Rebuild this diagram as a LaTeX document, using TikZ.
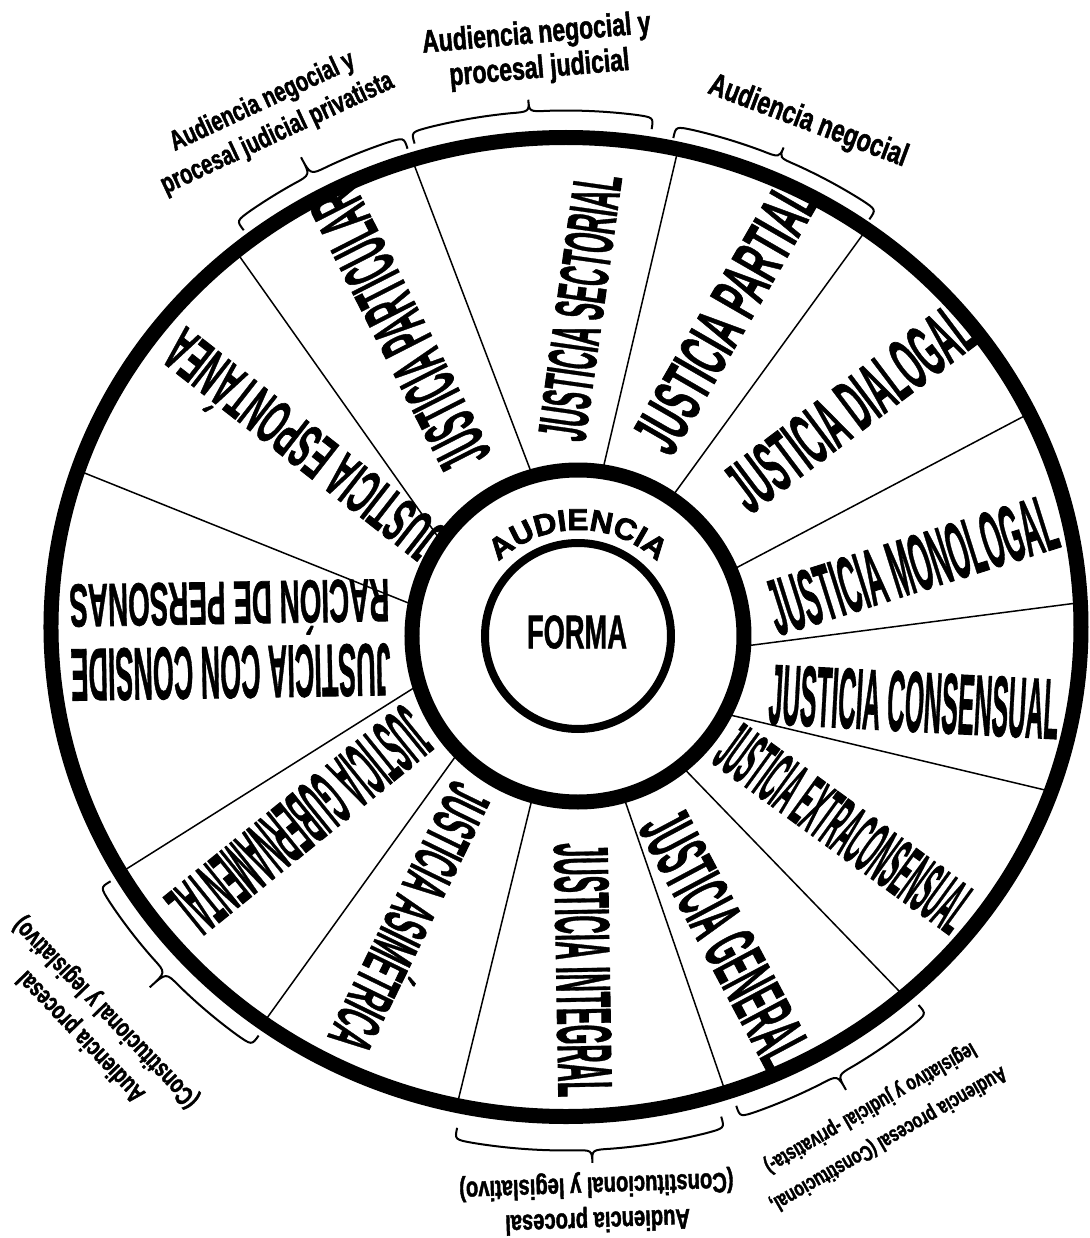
\documentclass[tikz,border=0pt]{standalone}
\usepackage{fontspec}
\usepackage{graphicx}
\usepackage{tikz}
\usetikzlibrary{calc,decorations.text}
\setmainfont{Liberation Sans}
\newfontfamily\segfont[FakeBold=1.2]{Liberation Sans Bold}
\newfontfamily\narrowsans[FakeStretch=0.72, FakeBold=1.5]{Liberation Sans Bold}
\newfontfamily\widesans[FakeStretch=1.05, FakeBold=2.5]{Liberation Sans Bold}

\tikzset{
  spoke/.style={line width=0.75pt},
  bracket/.style={line width=1pt},
  seglabel/.style={inner sep=0pt, font=\segfont},
  rimlabel/.style={inner sep=0pt, align=center},
}

% brace round the rim: start angle, end angle, tip angle, offset, tip height
\newcommand{\rimbrace}[5]{%
  \pgfmathsetmacro{\rxa}{515+#4}\pgfmathsetmacro{\rya}{489.5+#4}%
  \pgfmathsetmacro{\rxe}{\rxa-12}\pgfmathsetmacro{\rye}{\rya-12}%
  \pgfmathsetmacro{\rxt}{\rxa+#5}\pgfmathsetmacro{\ryt}{\rya+#5}%
  \pgfmathsetmacro{\aone}{#1-2}\pgfmathsetmacro{\atwo}{#3+2}%
  \pgfmathsetmacro{\athree}{#3-2}\pgfmathsetmacro{\afour}{#2+2}%
  \draw[bracket] ({\rxe*cos(#1)},{\rye*sin(#1)})
    .. controls ({\rxa*cos(#1)},{\rya*sin(#1)}) .. ({\rxa*cos(\aone)},{\rya*sin(\aone)})
    arc[start angle=\aone, end angle=\atwo, x radius=\rxa, y radius=\rya]
    .. controls ({\rxa*cos(#3)},{\rya*sin(#3)}) .. ({\rxt*cos(#3)},{\ryt*sin(#3)})
    .. controls ({\rxa*cos(#3)},{\rya*sin(#3)}) .. ({\rxa*cos(\athree)},{\rya*sin(\athree)})
    arc[start angle=\athree, end angle=\afour, x radius=\rxa, y radius=\rya]
    .. controls ({\rxa*cos(#2)},{\rya*sin(#2)}) .. ({\rxe*cos(#2)},{\rye*sin(#2)});
}

\begin{document}
\begin{tikzpicture}[x=0.5pt, y=0.5pt]
    \fill[white] (-578,-602) rectangle (511,636);
    \useasboundingbox (-578,-602) rectangle (511,636);

    % spokes
    \begin{scope}
        \clip (-12,9) ellipse [x radius=515, y radius=489.5];
        \draw[spoke] (105.8:165) -- ($(105.8:165)!1.5!(-163,469)$);
        \draw[spoke] (81.6:165) -- ($(81.6:165)!1.5!(99,482)$);
        \draw[spoke] (56.0:165) -- ($(56.0:165)!1.5!(283,399)$);
        \draw[spoke] (23.1:165) -- ($(23.1:165)!1.5!(471,233)$);
        \draw[spoke] (-3.6:165) -- ($(-3.6:165)!1.5!(499,33)$);
        \draw[spoke] (-28.0:165) -- ($(-28.0:165)!1.5!(467,-154)$);
        \draw[spoke] (-51.5:165) -- ($(-51.5:165)!1.5!(321,-355)$);
        \draw[spoke] (-74.2:165) -- ($(-74.2:165)!1.5!(144,-446)$);
        \draw[spoke] (-105.8:165) -- ($(-105.8:165)!1.5!(-120,-465)$);
        \draw[spoke] (-135.9:165) -- ($(-135.9:165)!1.5!(-311,-382)$);
        \draw[spoke] (-163.1:165) -- ($(-163.1:165)!1.5!(-450,-232)$);
        \draw[spoke] (169.5:165) -- ($(169.5:165)!1.5!(-491,162)$);
        \draw[spoke] (145.5:165) -- ($(145.5:165)!1.5!(-338,379)$);
    \end{scope}

    % rim, ring and hub
    \draw[line width=7.5pt] (-12,9) ellipse [x radius=515, y radius=489.5];
    \draw[line width=7.5pt] (0,0) circle [radius=166];
    \draw[line width=4pt] (0,0) circle [radius=93];

    \node (forma) at (-1,4) {\resizebox{50pt}{16.5pt}{\segfont FORMA}};
    \path[decorate, decoration={text along path, text align=center,
        text={|\widesans\fontsize{15}{15}\selectfont|AUDIENCIA}}]
        (140:115) ++(0,-9) arc [start angle=140, end angle=40, radius=115];

    % segments
    \node[seglabel, rotate=117] (particular) at (-178,306) {\resizebox{152pt}{26pt}{JUSTICIA PARTICULAR}};
    \node[seglabel, rotate=82] (sectorial) at (2,329) {\resizebox{134pt}{24pt}{JUSTICIA SECTORIAL}};
    \node[seglabel, rotate=60] (partial) at (147,318) {\resizebox{148pt}{24pt}{JUSTICIA PARTIAL}};
    \node[seglabel, rotate=37] (dialogal) at (272,228) {\resizebox{144pt}{26pt}{JUSTICIA DIALOGAL}};
    \node[seglabel, rotate=17.5] (monologal) at (334,71) {\resizebox{149pt}{28pt}{JUSTICIA MONOLOGAL}};
    \node[seglabel, rotate=-3] (consensual) at (336,-66) {\resizebox{145pt}{30pt}{JUSTICIA CONSENSUAL}};
    \node[seglabel, rotate=-36] (extra) at (267,-192) {\resizebox{148pt}{26pt}{JUSTICIA EXTRACONSENSUAL}};
    \node[seglabel, rotate=-62] (general) at (147,-302) {\resizebox{138pt}{26pt}{JUSTICIA GENERAL}};
    \node[seglabel, rotate=-89] (integral) at (5,-334) {\resizebox{127pt}{27pt}{JUSTICIA INTEGRAL}};
    \node[seglabel, rotate=244] (asimetrica) at (-163,-284) {\resizebox{144pt}{28pt}{JUSTICIA ASIMÉTRICA}};
    \node[seglabel, rotate=219] (gubernamental) at (-278,-186) {\resizebox{155pt}{28pt}{JUSTICIA GUBERNAMENTAL}};
    \node[seglabel, rotate=181, align=center] (personas) at (-348,-4) {\resizebox{160pt}{26pt}{JUSTICIA CON CONSIDE}\\[4pt]\resizebox{160pt}{27pt}{RACIÓN DE PERSONAS}};
    \node[seglabel, rotate=142] (espontanea) at (-278,186) {\resizebox{167pt}{28pt}{JUSTICIA ESPONTÁNEA}};

    % braces
    \begin{scope}[shift={(-12,9)}]
        \rimbrace{106.6}{80.7}{93.9}{27}{12}
        \rimbrace{127.7}{107.5}{118.3}{24}{20}
        \rimbrace{78.2}{54.7}{66.6}{22}{11}
        \rimbrace{234.4}{210.4}{222.2}{25}{22}
        \rimbrace{-73.2}{-101.7}{-87.3}{34}{13}
        \rimbrace{-48.4}{-71.3}{-60}{28}{17}
    \end{scope}

    % audiences
    \node[rimlabel, rotate=5, font=\narrowsans\fontsize{16}{17.5}\selectfont] (negproc) at (-40,584) {Audiencia negocial y\\procesal judicial};
    \node[rimlabel, rotate=25, font=\narrowsans\fontsize{14}{17.5}\selectfont] (negpriv) at (-308,518) {Audiencia negocial y\\procesal judicial privatista};
    \node[rimlabel, rotate=-20.6, font=\narrowsans\fontsize{16}{17.5}\selectfont] (negocial) at (230,514) {Audiencia negocial};
    \node[rimlabel, rotate=134, font=\narrowsans\fontsize{13}{17}\selectfont] (proclegis) at (-484,-388) {Audiencia procesal\\(Constitucional y legislativo)};
    \node[rimlabel, rotate=182, font=\narrowsans\fontsize{14}{17.5}\selectfont] (procbottom) at (19,-566) {Audiencia procesal\\(Constitucional y legislativo)};
    \node[rimlabel, rotate=210, font=\narrowsans\fontsize{11}{18}\selectfont] (procpriv) at (301,-487) {Audiencia procesal (Constitucional,\\legislativo y judicial -privatista-)};
\end{tikzpicture}
\end{document}
